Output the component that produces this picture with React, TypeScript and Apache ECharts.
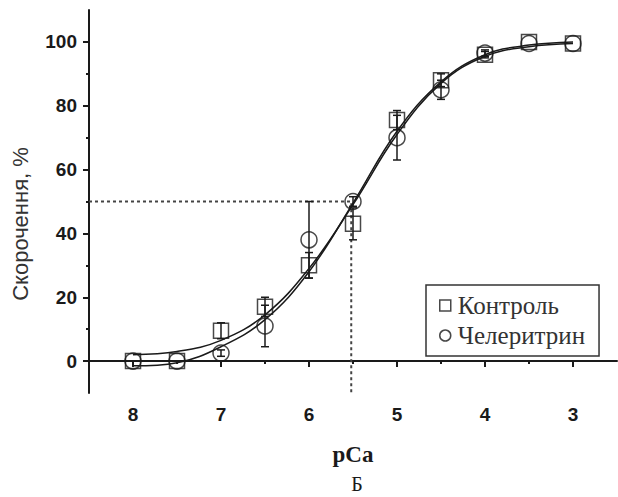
import React, { useEffect, useRef } from "react";
import * as echarts from "echarts";

const pCa = [8, 7.5, 7, 6.5, 6, 5.5, 5, 4.5, 4, 3.5, 3];
const controlVals = [0, 0, 9.5, 17, 30, 43, 75.5, 88, 96, 100, 99.5];
const controlErr = [0, 0, 2.5, 3, 4, 5, 3, 2, 1, 0, 0];
const chelVals = [0, 0, 2.5, 11, 38, 50, 70, 85, 96.5, 99.5, 99.5];
const chelErr = [0, 0, 1, 6.5, 12, 1.5, 7, 3, 1, 0, 0];
const fitControl = [2, 3, 6.5, 14.5, 29, 49, 71, 87, 95.5, 98.5, 99.5];
const fitChel = [-1.5, -0.5, 4.5, 13, 28, 49.5, 72, 87.5, 96, 99, 100];
const xTicks = [8, 7, 6, 5, 4, 3];
const xMinorTicks = [7.5, 6.5, 5.5, 4.5, 3.5];
const yTicks = [0, 20, 40, 60, 80, 100];
const yMinorTicks = [10, 30, 50, 70, 90];
const halfLevel = 50;
const pCa50 = 5.52;
const names = ["Контроль", "Челеритрин"];

const INK = "#1a1a1a";

export default function App() {
  const ref = useRef<HTMLDivElement>(null);
  useEffect(() => {
    document.body.style.margin = "0";
    if (!ref.current) return;
    const chart = echarts.init(ref.current, null, { renderer: "svg" });
    const errItem = (params: any, api: any) => {
      const x = api.value(0);
      const y = api.value(1);
      const e = api.value(2);
      if (!e) return { type: "group", children: [] };
      const t = api.coord([x, y + e]);
      const b = api.coord([x, y - e]);
      const cap = 4;
      const st = { stroke: INK, lineWidth: 1.5 };
      return {
        type: "group",
        children: [
          { type: "line", shape: { x1: t[0], y1: t[1], x2: b[0], y2: b[1] }, style: st },
          { type: "line", shape: { x1: t[0] - cap, y1: t[1], x2: t[0] + cap, y2: t[1] }, style: st },
          { type: "line", shape: { x1: b[0] - cap, y1: b[1], x2: b[0] + cap, y2: b[1] }, style: st },
        ],
      };
    };
    const xCommon = { type: "value", min: 2.5, max: 8.5, inverse: true, splitLine: { show: false } };
    const yCommon = { type: "value", min: -10, max: 110, splitLine: { show: false } };
    chart.setOption({
      animation: false,
      backgroundColor: "#fff",
      grid: { left: 89, right: 1, top: 10, bottom: 104 },
      xAxis: [
        {
          ...xCommon,
          name: "pCa",
          nameLocation: "middle",
          nameGap: 50,
          nameTextStyle: { fontFamily: "Liberation Serif", fontWeight: "bold", fontSize: 23, color: INK },
          axisLine: { lineStyle: { color: INK, width: 2 } },
          axisTick: { customValues: xTicks, length: 6, lineStyle: { color: INK, width: 2 } },
          axisLabel: {
            customValues: xTicks,
            margin: 12,
            fontFamily: "Liberation Sans",
            fontWeight: "bold",
            fontSize: 19,
            color: INK,
          },
        },
        {
          ...xCommon,
          position: "bottom",
          axisLine: { show: false },
          axisTick: { customValues: xMinorTicks, length: 3, lineStyle: { color: INK, width: 2 } },
          axisLabel: { show: false },
        },
      ],
      yAxis: [
        {
          ...yCommon,
          axisLine: { show: true, lineStyle: { color: INK, width: 2 } },
          axisTick: { show: true, customValues: yTicks, length: 6, lineStyle: { color: INK, width: 2 } },
          axisLabel: {
            customValues: yTicks,
            margin: 12,
            fontFamily: "Liberation Sans",
            fontWeight: "bold",
            fontSize: 19,
            color: INK,
          },
        },
        {
          ...yCommon,
          position: "left",
          axisLine: { show: false },
          axisTick: { show: true, customValues: yMinorTicks, length: 3, lineStyle: { color: INK, width: 2 } },
          axisLabel: { show: false },
        },
      ],
      legend: {
        left: 426,
        top: 285,
        orient: "vertical",
        borderColor: "#333",
        borderWidth: 1.5,
        padding: [8, 14, 8, 13],
        itemGap: 5,
        itemWidth: 11,
        itemHeight: 11,
        textStyle: { fontFamily: "Liberation Serif", fontSize: 25, color: "#333", padding: [0, 0, 0, 2] },
        data: [
          { name: names[0], icon: "rect", itemStyle: { color: "transparent", borderColor: INK, borderWidth: 1.5 } },
          { name: names[1], icon: "circle", itemStyle: { color: "transparent", borderColor: INK, borderWidth: 1.5 } },
        ],
      },
      graphic: [
        {
          type: "text",
          x: 20,
          y: 224,
          rotation: Math.PI / 2,
          style: {
            text: "Скорочення, %",
            fontFamily: "Liberation Sans",
            fontSize: 22,
            fill: "#333",
            align: "center",
            verticalAlign: "middle",
          },
        },
        {
          type: "text",
          x: 357,
          y: 484,
          style: {
            text: "Б",
            fontFamily: "Liberation Serif",
            fontSize: 20,
            fill: INK,
            align: "center",
            verticalAlign: "middle",
          },
        },
      ],
      series: [
        {
          type: "line",
          data: [[8.5, halfLevel], [pCa50, halfLevel], [pCa50, -10]],
          symbol: "none",
          lineStyle: { color: "#444", width: 2, type: [3, 3] },
          silent: true,
          z: 1,
        },
        {
          type: "line",
          data: pCa.map((x, i) => [x, fitControl[i]]),
          smooth: 0.4,
          symbol: "none",
          lineStyle: { color: INK, width: 1.5 },
          z: 2,
        },
        {
          type: "line",
          data: pCa.map((x, i) => [x, fitChel[i]]),
          smooth: 0.4,
          symbol: "none",
          lineStyle: { color: INK, width: 1.5 },
          z: 2,
        },
        {
          type: "custom",
          renderItem: errItem,
          data: pCa.map((x, i) => [x, controlVals[i], controlErr[i]]),
          z: 3,
        },
        {
          type: "custom",
          renderItem: errItem,
          data: pCa.map((x, i) => [x, chelVals[i], chelErr[i]]),
          z: 3,
        },
        {
          name: names[0],
          type: "scatter",
          data: pCa.map((x, i) => [x, controlVals[i]]),
          symbol: "rect",
          symbolSize: 15,
          itemStyle: { color: "transparent", borderColor: INK, borderWidth: 1.5 },
          z: 4,
        },
        {
          name: names[1],
          type: "scatter",
          data: pCa.map((x, i) => [x, chelVals[i]]),
          symbol: "circle",
          symbolSize: 16,
          itemStyle: { color: "transparent", borderColor: INK, borderWidth: 1.5 },
          z: 4,
        },
      ],
    });
    return () => chart.dispose();
  }, []);
  return <div ref={ref} style={{ width: 618, height: 497 }} />;
}
